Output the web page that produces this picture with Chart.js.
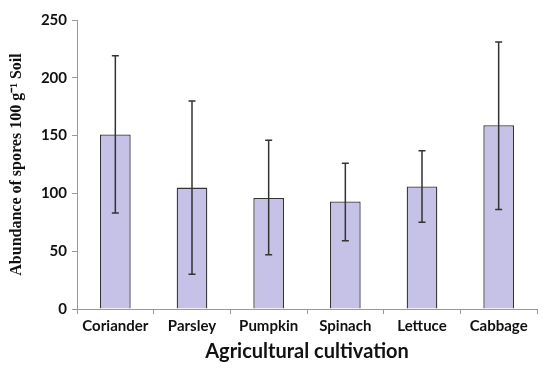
<!DOCTYPE html>
<html>
<head>
<meta charset="utf-8">
<script src="https://cdn.jsdelivr.net/npm/chart.js@4/dist/chart.umd.min.js"></script>
<style>
html,body{margin:0;padding:0;background:#fff;}
#wrap{width:551px;height:370px;}
</style>
</head>
<body>
<div id="wrap"><canvas id="c" width="551" height="370"></canvas></div>
<script>
const categories = ["Coriander", "Parsley", "Pumpkin", "Spinach", "Lettuce", "Cabbage"];
const abundance = [151, 105, 96, 93, 106, 159];
const errorUpper = [219, 180, 146, 126, 137, 231];
const errorLower = [83, 30, 47, 59, 75, 86];
const yTicks = [0, 50, 100, 150, 200, 250];

const errorBarPlugin = {
  id: 'errorBars',
  afterDatasetsDraw(chart) {
    const ctx = chart.ctx;
    const xs = chart.scales.x, ys = chart.scales.y;
    ctx.save();
    ctx.strokeStyle = '#333';
    ctx.lineWidth = 1.5;
    categories.forEach((c, i) => {
      const x = xs.getPixelForValue(i);
      const yt = ys.getPixelForValue(errorUpper[i]);
      const yb = ys.getPixelForValue(errorLower[i]);
      ctx.beginPath();
      ctx.moveTo(x, yt); ctx.lineTo(x, yb);
      ctx.moveTo(x - 3.5, yt); ctx.lineTo(x + 3.5, yt);
      ctx.moveTo(x - 3.5, yb); ctx.lineTo(x + 3.5, yb);
      ctx.stroke();
    });
    ctx.restore();
  }
};

new Chart(document.getElementById('c'), {
  type: 'bar',
  data: {
    labels: categories,
    datasets: [{
      data: abundance,
      backgroundColor: '#c6c1e7',
      borderColor: '#333',
      borderWidth: 1.3,
      barPercentage: 0.4,
      categoryPercentage: 1.0
    }]
  },
  options: {
    responsive: false,
    animation: false,
    devicePixelRatio: 1,
    layout: { padding: { top: 20, right: 14, left: 0, bottom: 6 } },
    plugins: { legend: { display: false }, tooltip: { enabled: false } },
    scales: {
      x: {
        offset: true,
        grid: { offset: true, drawOnChartArea: false, drawTicks: true, tickLength: 5, color: '#999' },
        border: { display: true, color: '#999', width: 1 },
        ticks: { color: '#111', font: { family: 'Lato', weight: 'bold', size: 15 }, padding: 3 },
        title: { display: true, text: 'Agricultural cultivation', color: '#111',
                 font: { family: 'Lato', weight: 'bold', size: 20 }, padding: { top: 2, bottom: 0 } }
      },
      y: {
        min: 0, max: 250,
        afterBuildTicks(axis) { axis.ticks = yTicks.map(v => ({ value: v })); },
        afterFit(axis) { axis.width = 77; },
        grid: { drawOnChartArea: false, drawTicks: true, tickLength: 5, color: '#999' },
        border: { display: true, color: '#999', width: 1 },
        ticks: { color: '#111', font: { family: 'Lato', weight: 'bold', size: 15 }, padding: 5 },
        title: { display: true, text: 'Abundance of spores 100 g\u207B\u00B9 Soil', color: '#111',
                 font: { family: 'Liberation Serif', weight: 'bold', size: 16 }, padding: { top: 7, bottom: 4 } }
      }
    }
  },
  plugins: [errorBarPlugin]
});
</script>
</body>
</html>
